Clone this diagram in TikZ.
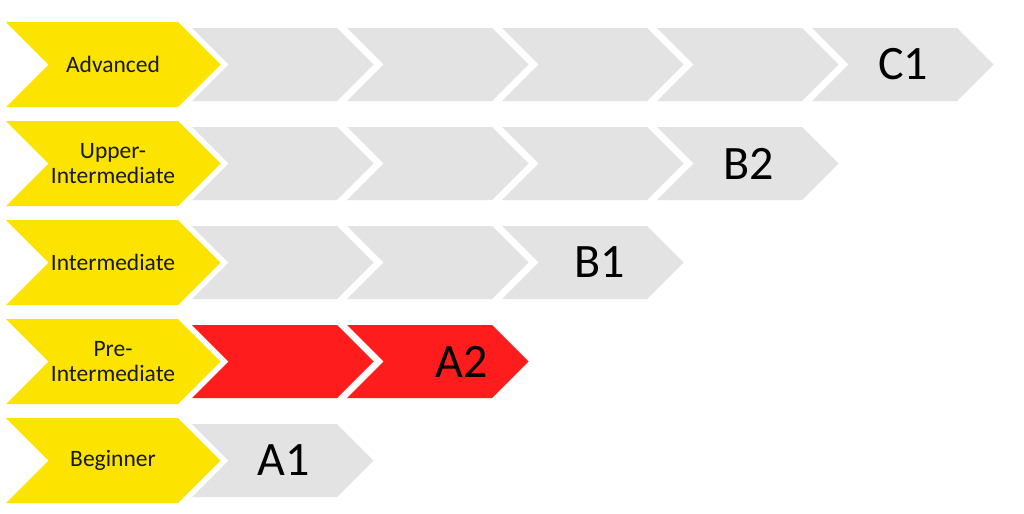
\documentclass[tikz,border=0pt]{standalone}
\usepackage{fontspec}
\setmainfont{Carlito}
\definecolor{levelyellow}{RGB}{252,228,0}
\definecolor{stepgray}{RGB}{227,227,227}
\definecolor{stepred}{RGB}{255,28,28}
\tikzset{
	levelname/.style={align=center,text=black!90,font=\fontsize{11.75}{12.5}\selectfont},
	levelcode/.style={text=black,font=\fontsize{24}{28}\selectfont}
}
% x, top, width, height, depth, colour
\newcommand{\levelchevron}[6]{%
	\fill[#6] (#1,#2) -- ({#1+#3},#2) -- ({#1+#3+#5},{#2+#4/2}) -- ({#1+#3},{#2+#4}) -- (#1,{#2+#4}) -- ({#1+#5},{#2+#4/2}) -- cycle;}
\begin{document}
\begin{tikzpicture}[x=0.5pt,y=-0.5pt]
				\useasboundingbox (0,0) rectangle (1024,514);
				
				\foreach \t in {22,121,220,319,418}
					\levelchevron{6}{\t}{172}{85}{42.5}{levelyellow};
				\foreach \x in {192,347,502,657,812}
					\levelchevron{\x}{28}{145}{73}{36.5}{stepgray};
				\foreach \x in {192,347,502,657}
					\levelchevron{\x}{127}{145}{73}{36.5}{stepgray};
				\foreach \x in {192,347,502}
					\levelchevron{\x}{226}{145}{73}{36.5}{stepgray};
				\foreach \x in {192,347}
					\levelchevron{\x}{325}{145}{73}{36.5}{stepred};
				\levelchevron{192}{424}{145}{73}{36.5}{stepgray};
				
				\begin{scope}[every node/.style={levelname}]
					\node (advanced) at (113,64.5) {Advanced};
					\node (upper) at (113,163.5) {Upper-\\Intermediate};
					\node (intermediate) at (113,262.5) {Intermediate};
					\node (pre) at (113,361.5) {Pre-\\Intermediate};
					\node (beginner) at (113,460.5) {Beginner};
				\end{scope}
				\begin{scope}[every node/.style={levelcode}]
					\node (C1) at (903,64.5) {C1};
					\node (B2) at (749,163.5) {B2};
					\node (B1) at (600,262.5) {B1};
					\node (A2) at (462,361.5) {A2};
					\node (A1) at (284,460.5) {A1};
				\end{scope}
			\end{tikzpicture}
\end{document}
